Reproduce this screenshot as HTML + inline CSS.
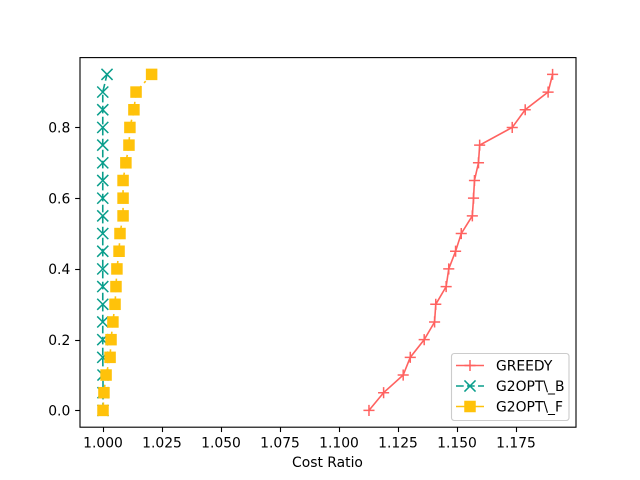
<!DOCTYPE html>
<html>
<head>
<meta charset="utf-8">
<title>Cost Ratio chart</title>
<style>
html,body{margin:0;padding:0;background:#fff;}
svg{display:block;}
text{font-family:"DejaVu Sans",sans-serif;font-size:13.89px;fill:#000;}
</style>
</head>
<body>
<svg id="chart" width="640" height="480" viewBox="0 0 640 480" xmlns="http://www.w3.org/2000/svg"></svg>
<script>
const yValues = [0, 0.05, 0.1, 0.15, 0.2, 0.25, 0.3, 0.35, 0.4, 0.45, 0.5, 0.55, 0.6, 0.65, 0.7, 0.75, 0.8, 0.85, 0.9, 0.95];
const greedyValues = [1.1127, 1.1189, 1.1272, 1.1302, 1.1361, 1.1405, 1.1410, 1.1454, 1.1465, 1.1494, 1.1518, 1.1565, 1.1570, 1.1574, 1.1591, 1.1596, 1.1734, 1.1789, 1.1886, 1.1905];
const g2optBValues = [1.0, 1.0, 1.0, 0.9999, 0.9999, 0.9999, 0.9999, 0.9999, 0.9999, 0.9999, 0.9999, 0.9999, 0.9999, 0.9999, 0.9999, 0.9999, 0.9999, 0.9999, 0.9999, 1.0017];
const g2optFValues = [1.0, 1.0004, 1.0013, 1.003, 1.0034, 1.0042, 1.0051, 1.0055, 1.0059, 1.0068, 1.0072, 1.0085, 1.0085, 1.0085, 1.0097, 1.011, 1.0114, 1.0131, 1.014, 1.0206];
const xTicks = [1.0, 1.025, 1.05, 1.075, 1.1, 1.125, 1.15, 1.175];
const xTickLabels = ["1.000", "1.025", "1.050", "1.075", "1.100", "1.125", "1.150", "1.175"];
const yTicks = [0, 0.2, 0.4, 0.6, 0.8];
const yTickLabels = ["0.0", "0.2", "0.4", "0.6", "0.8"];
const legendLabels = ["GREEDY", "G2OPT\\_B", "G2OPT\\_F"];

const NS = "http://www.w3.org/2000/svg";
const svg = document.getElementById("chart");
const AX = {l: 80, r: 576, t: 57.6, b: 427.2};
const RED = "#ff6260", TEAL = "#0a9e8c", YEL = "#ffc20a";
const LINE_W = 1.6;
function xScale(v) { return 103 + (v - 1) * 2360; }
function yScale(v) { return 410.4 - v * 353.7; }
function mk(tag, attrs, parent) {
  const e = document.createElementNS(NS, tag);
  for (const k in attrs) e.setAttribute(k, attrs[k]);
  (parent || svg).appendChild(e);
  return e;
}
function drawMarker(g, kind, cx, cy, color) {
  const h = 5.55;
  if (kind === "plus") {
    mk("path", {d: `M${cx - h} ${cy}H${cx + h}M${cx} ${cy - h}V${cy + h}`, stroke: color, "stroke-width": 1.5, fill: "none"}, g);
  } else if (kind === "x") {
    mk("path", {d: `M${cx - h} ${cy - h}L${cx + h} ${cy + h}M${cx - h} ${cy + h}L${cx + h} ${cy - h}`, stroke: color, "stroke-width": 1.5, fill: "none"}, g);
  } else {
    mk("rect", {x: cx - 5.75, y: cy - 5.75, width: 11.5, height: 11.5, fill: color, stroke: "none"}, g);
  }
}

const bg = mk("rect", {x: AX.l, y: AX.t, width: AX.r - AX.l, height: AX.b - AX.t, fill: "#fff"});



function drawSeries(name, values, color, kind, dash, perSegment) {
  const g = mk("g", {});
  
  
  if (perSegment) {
    for (let i = 0; i + 1 < values.length; i++) {
      mk("line", {x1: xScale(values[i]).toFixed(2), y1: yScale(yValues[i]).toFixed(2), x2: xScale(values[i + 1]).toFixed(2), y2: yScale(yValues[i + 1]).toFixed(2), stroke: color, "stroke-width": LINE_W, "stroke-dasharray": dash}, g);
    }
  } else {
    const pts = values.map((v, i) => xScale(v).toFixed(2) + "," + yScale(yValues[i]).toFixed(2)).join(" ");
    const attrs = {points: pts, fill: "none", stroke: color, "stroke-width": LINE_W};
    if (dash) attrs["stroke-dasharray"] = dash;
    mk("polyline", attrs, g);
  }
  values.forEach((v, i) => drawMarker(g, kind, xScale(v), yScale(yValues[i]), color));
}
drawSeries("series-greedy", greedyValues, RED, "plus", null, false);
drawSeries("series-g2opt-b", g2optBValues, TEAL, "x", "7.7,3.3", false);
drawSeries("series-g2opt-f", g2optFValues, YEL, "square", "8,4.2,2.4,200", true);

const xAxis = mk("g", {});


xTicks.forEach((t, i) => {
  const x = Math.round(xScale(t)) + 0.5;
  mk("line", {x1: x, x2: x, y1: AX.b, y2: AX.b + 4.86, stroke: "#000", "stroke-width": 1.11}, xAxis);
  const lb = mk("text", {x: xScale(t), y: 447.5, "text-anchor": "middle"}, xAxis);
  lb.textContent = xTickLabels[i];
});
const yAxis = mk("g", {});


yTicks.forEach((t, i) => {
  const y = Math.round(yScale(t)) + 0.5;
  mk("line", {x1: AX.l - 4.86, x2: AX.l, y1: y, y2: y, stroke: "#000", "stroke-width": 1.11}, yAxis);
  const lb = mk("text", {x: 70.3, y: yScale(t) + 5.2, "text-anchor": "end"}, yAxis);
  lb.textContent = yTickLabels[i];
});

const frame = mk("rect", {x: AX.l, y: AX.t, width: AX.r - AX.l, height: AX.b - AX.t, fill: "none", stroke: "#000", "stroke-width": 1.11});



const xTitle = mk("text", {x: 327.5, y: 467, "text-anchor": "middle"});


xTitle.textContent = "Cost Ratio";

const legend = mk("g", {});


mk("rect", {x: 451.5, y: 353.5, width: 117.5, height: 67, rx: 2.8, ry: 2.8, fill: "#fff", "fill-opacity": 0.8, stroke: "#ccc", "stroke-width": 1.11}, legend);
const legendColors = [RED, TEAL, YEL];
const legendKinds = ["plus", "x", "square"];
const legendDash = [null, "7.7,3.3", null];
legendLabels.forEach((label, i) => {
  const y = 365.5 + i * 20.5;
  const entry = mk("g", {}, legend);
  
  
  const a = {x1: 456, x2: 484, y1: y, y2: y, stroke: legendColors[i], "stroke-width": LINE_W};
  if (legendDash[i]) a["stroke-dasharray"] = legendDash[i];
  mk("line", a, entry);
  drawMarker(entry, legendKinds[i], 470, y, legendColors[i]);
  const t = mk("text", {x: 496, y: y + 5}, entry);
  t.textContent = label;
});
</script>
</body>
</html>
